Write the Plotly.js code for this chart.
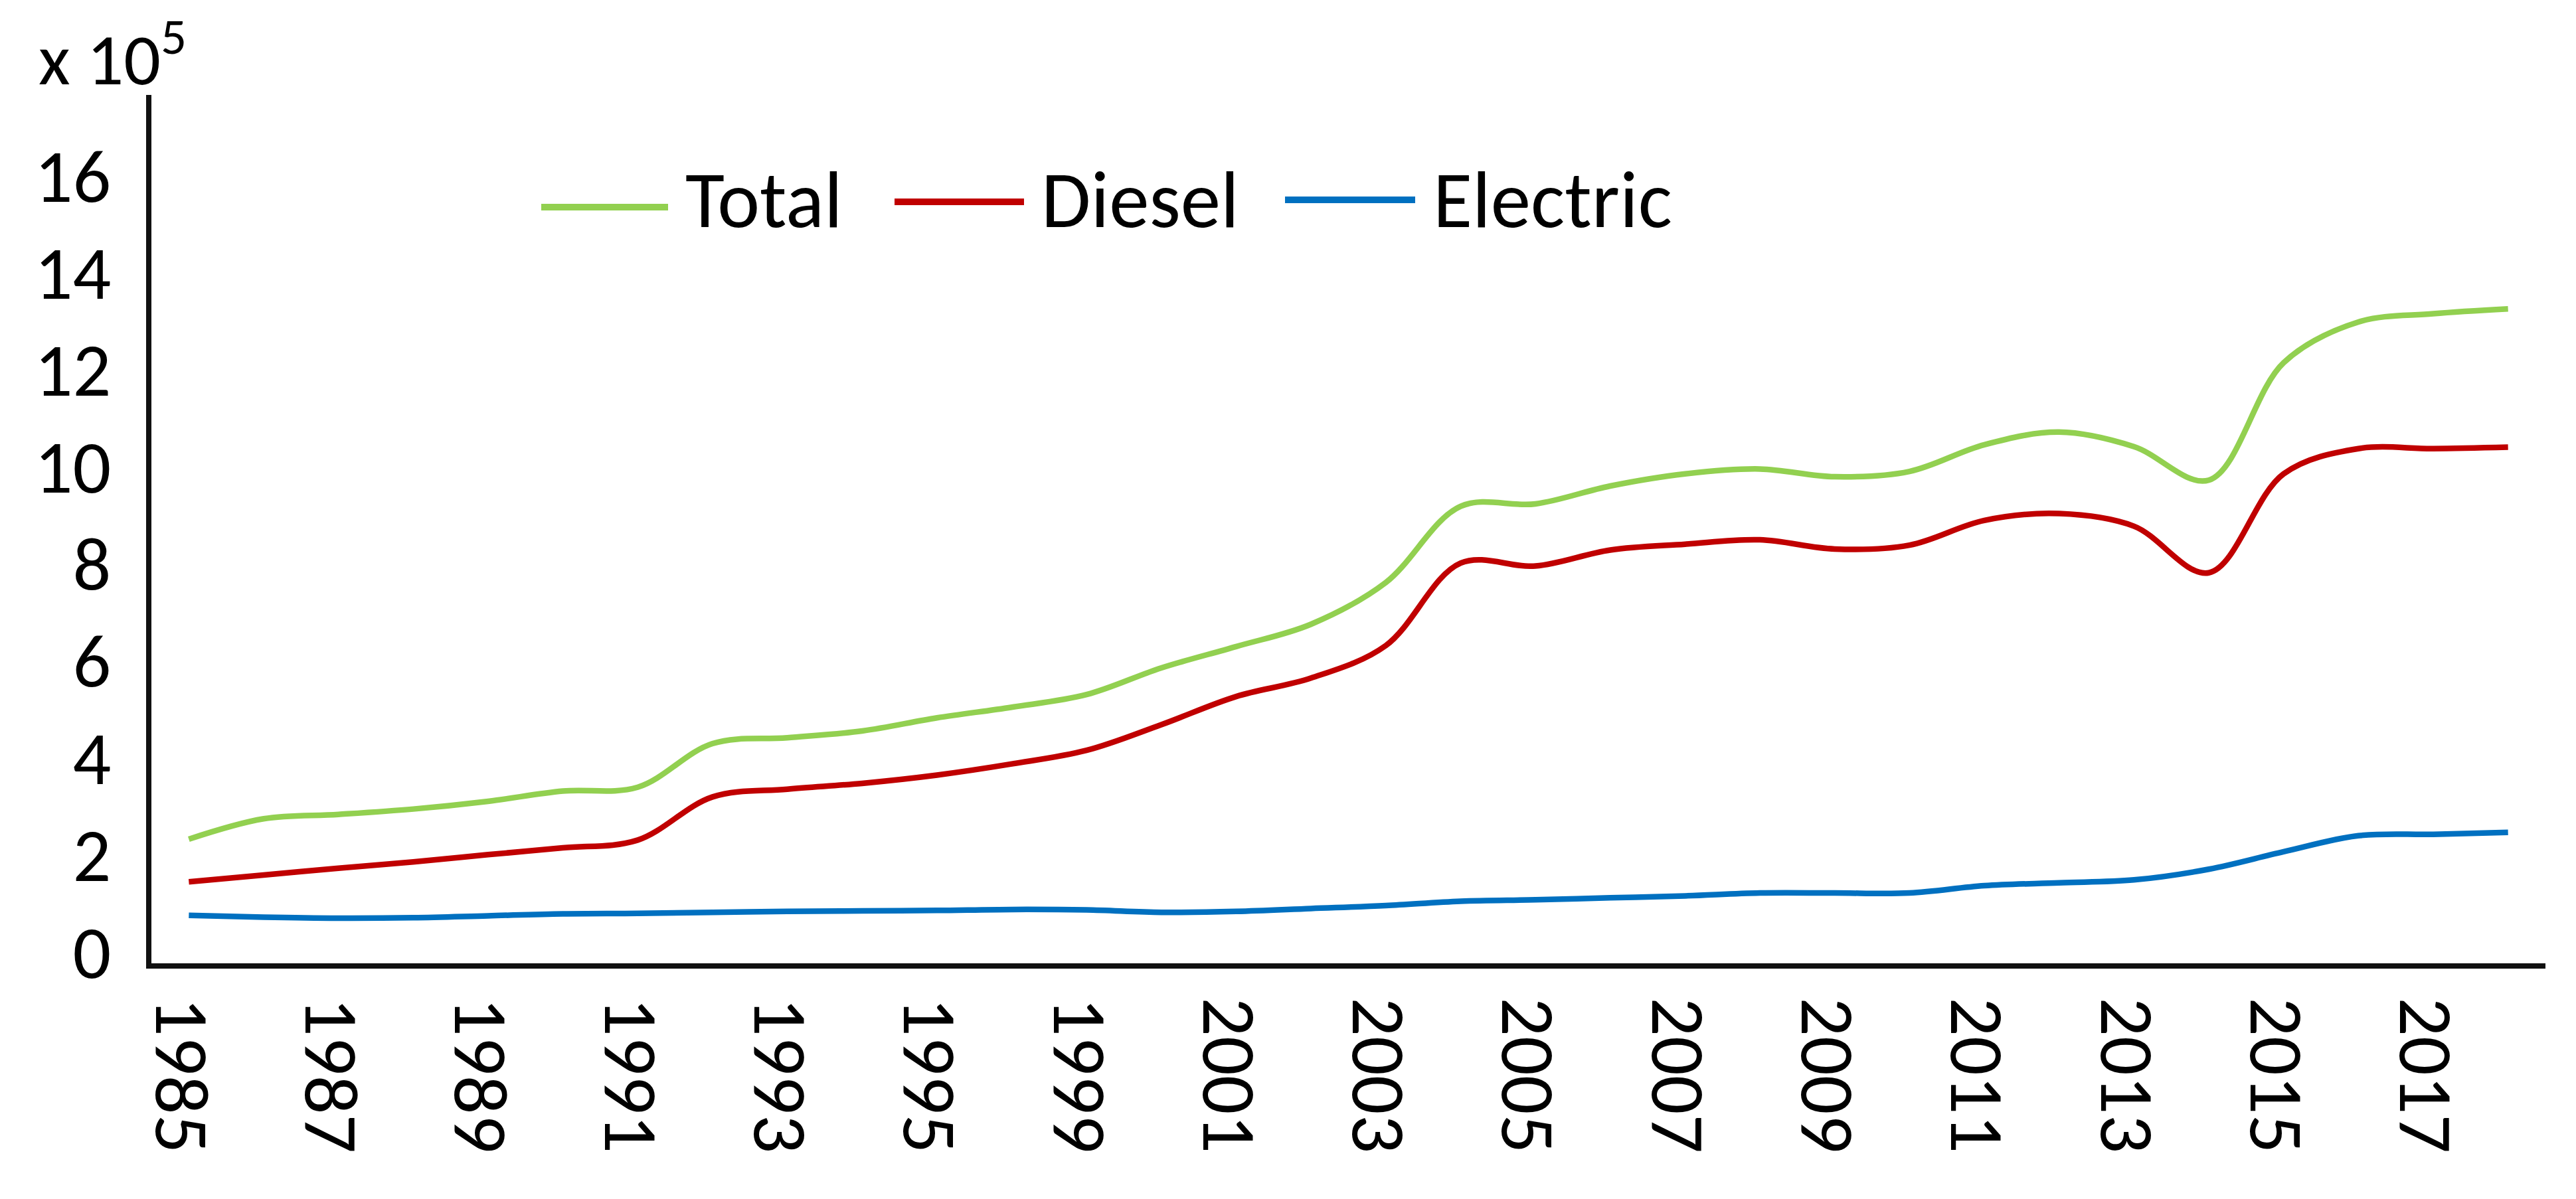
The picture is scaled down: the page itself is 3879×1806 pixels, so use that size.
<!DOCTYPE html>
<html>
<head>
<meta charset="utf-8">
<script src="https://cdn.plot.ly/plotly-3.0.1.min.js"></script>
<style>
  html, body { margin: 0; padding: 0; background: #ffffff; }
  #chart { width: 3879px; height: 1806px; }
</style>
</head>
<body>
<div id="chart"></div>
<script>
// ---- data (values in units of 10^5) ----
const years = ['1985','1986','1987','1988','1989','1990','1991','1992','1993','1994','1995',
               '1997','1999','2000','2001','2002','2003','2004','2005','2006','2007','2008',
               '2009','2010','2011','2012','2013','2014','2015','2016','2017','2018'];

const totalValues = [2.56, 2.98, 3.07, 3.18, 3.34, 3.55, 3.63, 4.53, 4.65, 4.79, 5.06,
                     5.28, 5.54, 6.09, 6.53, 6.99, 7.85, 9.42, 9.47, 9.84, 10.09, 10.19,
                     10.03, 10.14, 10.69, 10.95, 10.65, 9.96, 12.38, 13.22, 13.39, 13.49];

const dieselValues = [1.68, 1.82, 1.96, 2.09, 2.24, 2.38, 2.54, 3.43, 3.59, 3.71, 3.88,
                      4.11, 4.39, 4.92, 5.50, 5.88, 6.55, 8.25, 8.19, 8.52, 8.64, 8.73,
                      8.54, 8.62, 9.13, 9.27, 9.01, 8.05, 10.09, 10.61, 10.61, 10.64];

const electricValues = [0.99, 0.95, 0.93, 0.94, 0.98, 1.02, 1.03, 1.05, 1.07, 1.08, 1.09,
                        1.11, 1.10, 1.05, 1.07, 1.13, 1.19, 1.28, 1.31, 1.35, 1.39, 1.45,
                        1.45, 1.45, 1.60, 1.66, 1.72, 1.94, 2.30, 2.63, 2.66, 2.70];

const xTickLabels = ['1985','1987','1989','1991','1993','1995','1999','2001','2003',
                     '2005','2007','2009','2011','2013','2015','2017'];
const yTickValues = [0, 2, 4, 6, 8, 10, 12, 14, 16];

const seriesNames = ['Total', 'Diesel', 'Electric'];
const seriesColors = ['#92D050', '#C00000', '#0070C0'];

// ---- layout geometry (pixels) ----
const W = 3879, H = 1806;
const M = { l: 228, r: 46, t: 143, b: 355 };
const plotW = W - M.l - M.r, plotH = H - M.t - M.b;
const px = x => (x - M.l) / plotW;          // pixel x -> paper x
const py = y => (H - M.b - y) / plotH;      // pixel y -> paper y

const FONT = 'Carlito, Calibri, Lato, "Liberation Sans", sans-serif';

const allSeries = [totalValues, dieselValues, electricValues];
const traces = allSeries.map((vals, k) => ({
  type: 'scatter',
  mode: 'lines',
  name: seriesNames[k],
  x: years,
  y: vals,
  line: { color: seriesColors[k], width: 8.5, shape: 'spline', smoothing: 1 },
  hoverinfo: 'x+y+name'
}));

// custom legend (long line samples like the original)
const legendItems = [
  { line: [815, 1006, 312], text: 1030 },
  { line: [1347, 1542, 304], text: 1566 },
  { line: [1935, 2131, 301], text: 2156 }
];
const shapes = legendItems.map((it, k) => ({
  type: 'line', xref: 'paper', yref: 'paper',
  x0: px(it.line[0]), x1: px(it.line[1]), y0: py(it.line[2]), y1: py(it.line[2]),
  line: { color: seriesColors[k], width: 10 }
}));
const annotations = legendItems.map((it, k) => ({
  xref: 'paper', yref: 'paper', x: px(it.text), y: py(300),
  xanchor: 'left', yanchor: 'middle', showarrow: false,
  text: seriesNames[k], font: { family: FONT, size: 121, color: '#000' }
}));
annotations.push({
  xref: 'paper', yref: 'paper', x: px(56), y: py(82),
  xanchor: 'left', yanchor: 'middle', showarrow: false,
  text: 'x 10<sup>5</sup>', font: { family: FONT, size: 110, color: '#000' }
});

const layout = {
  width: W, height: H,
  margin: M,
  paper_bgcolor: '#ffffff', plot_bgcolor: '#ffffff',
  showlegend: false,
  font: { family: FONT, size: 112, color: '#000' },
  xaxis: {
    type: 'category',
    categoryorder: 'array', categoryarray: years,
    range: [-0.5, years.length - 0.5],
    tickmode: 'array', tickvals: xTickLabels, ticktext: xTickLabels,
    tickangle: 90,
    ticks: '', showgrid: false, zeroline: false,
    showline: true, linecolor: '#111', linewidth: 8,
    tickfont: { family: FONT, size: 116, color: '#000' },
    ticklabelstandoff: 20,
    ticklabelshift: -12,
    fixedrange: true
  },
  yaxis: {
    range: [0, 17.9],
    tickmode: 'array', tickvals: yTickValues,
    ticks: '', showgrid: false, zeroline: false,
    showline: true, linecolor: '#111', linewidth: 8,
    tickfont: { family: FONT, size: 114, color: '#000' },
    ticklabelstandoff: 30,
    ticklabelshift: -18,
    fixedrange: true
  },
  shapes: shapes,
  annotations: annotations
};

Plotly.newPlot('chart', traces, layout, { displayModeBar: false, responsive: false });
</script>
</body>
</html>
